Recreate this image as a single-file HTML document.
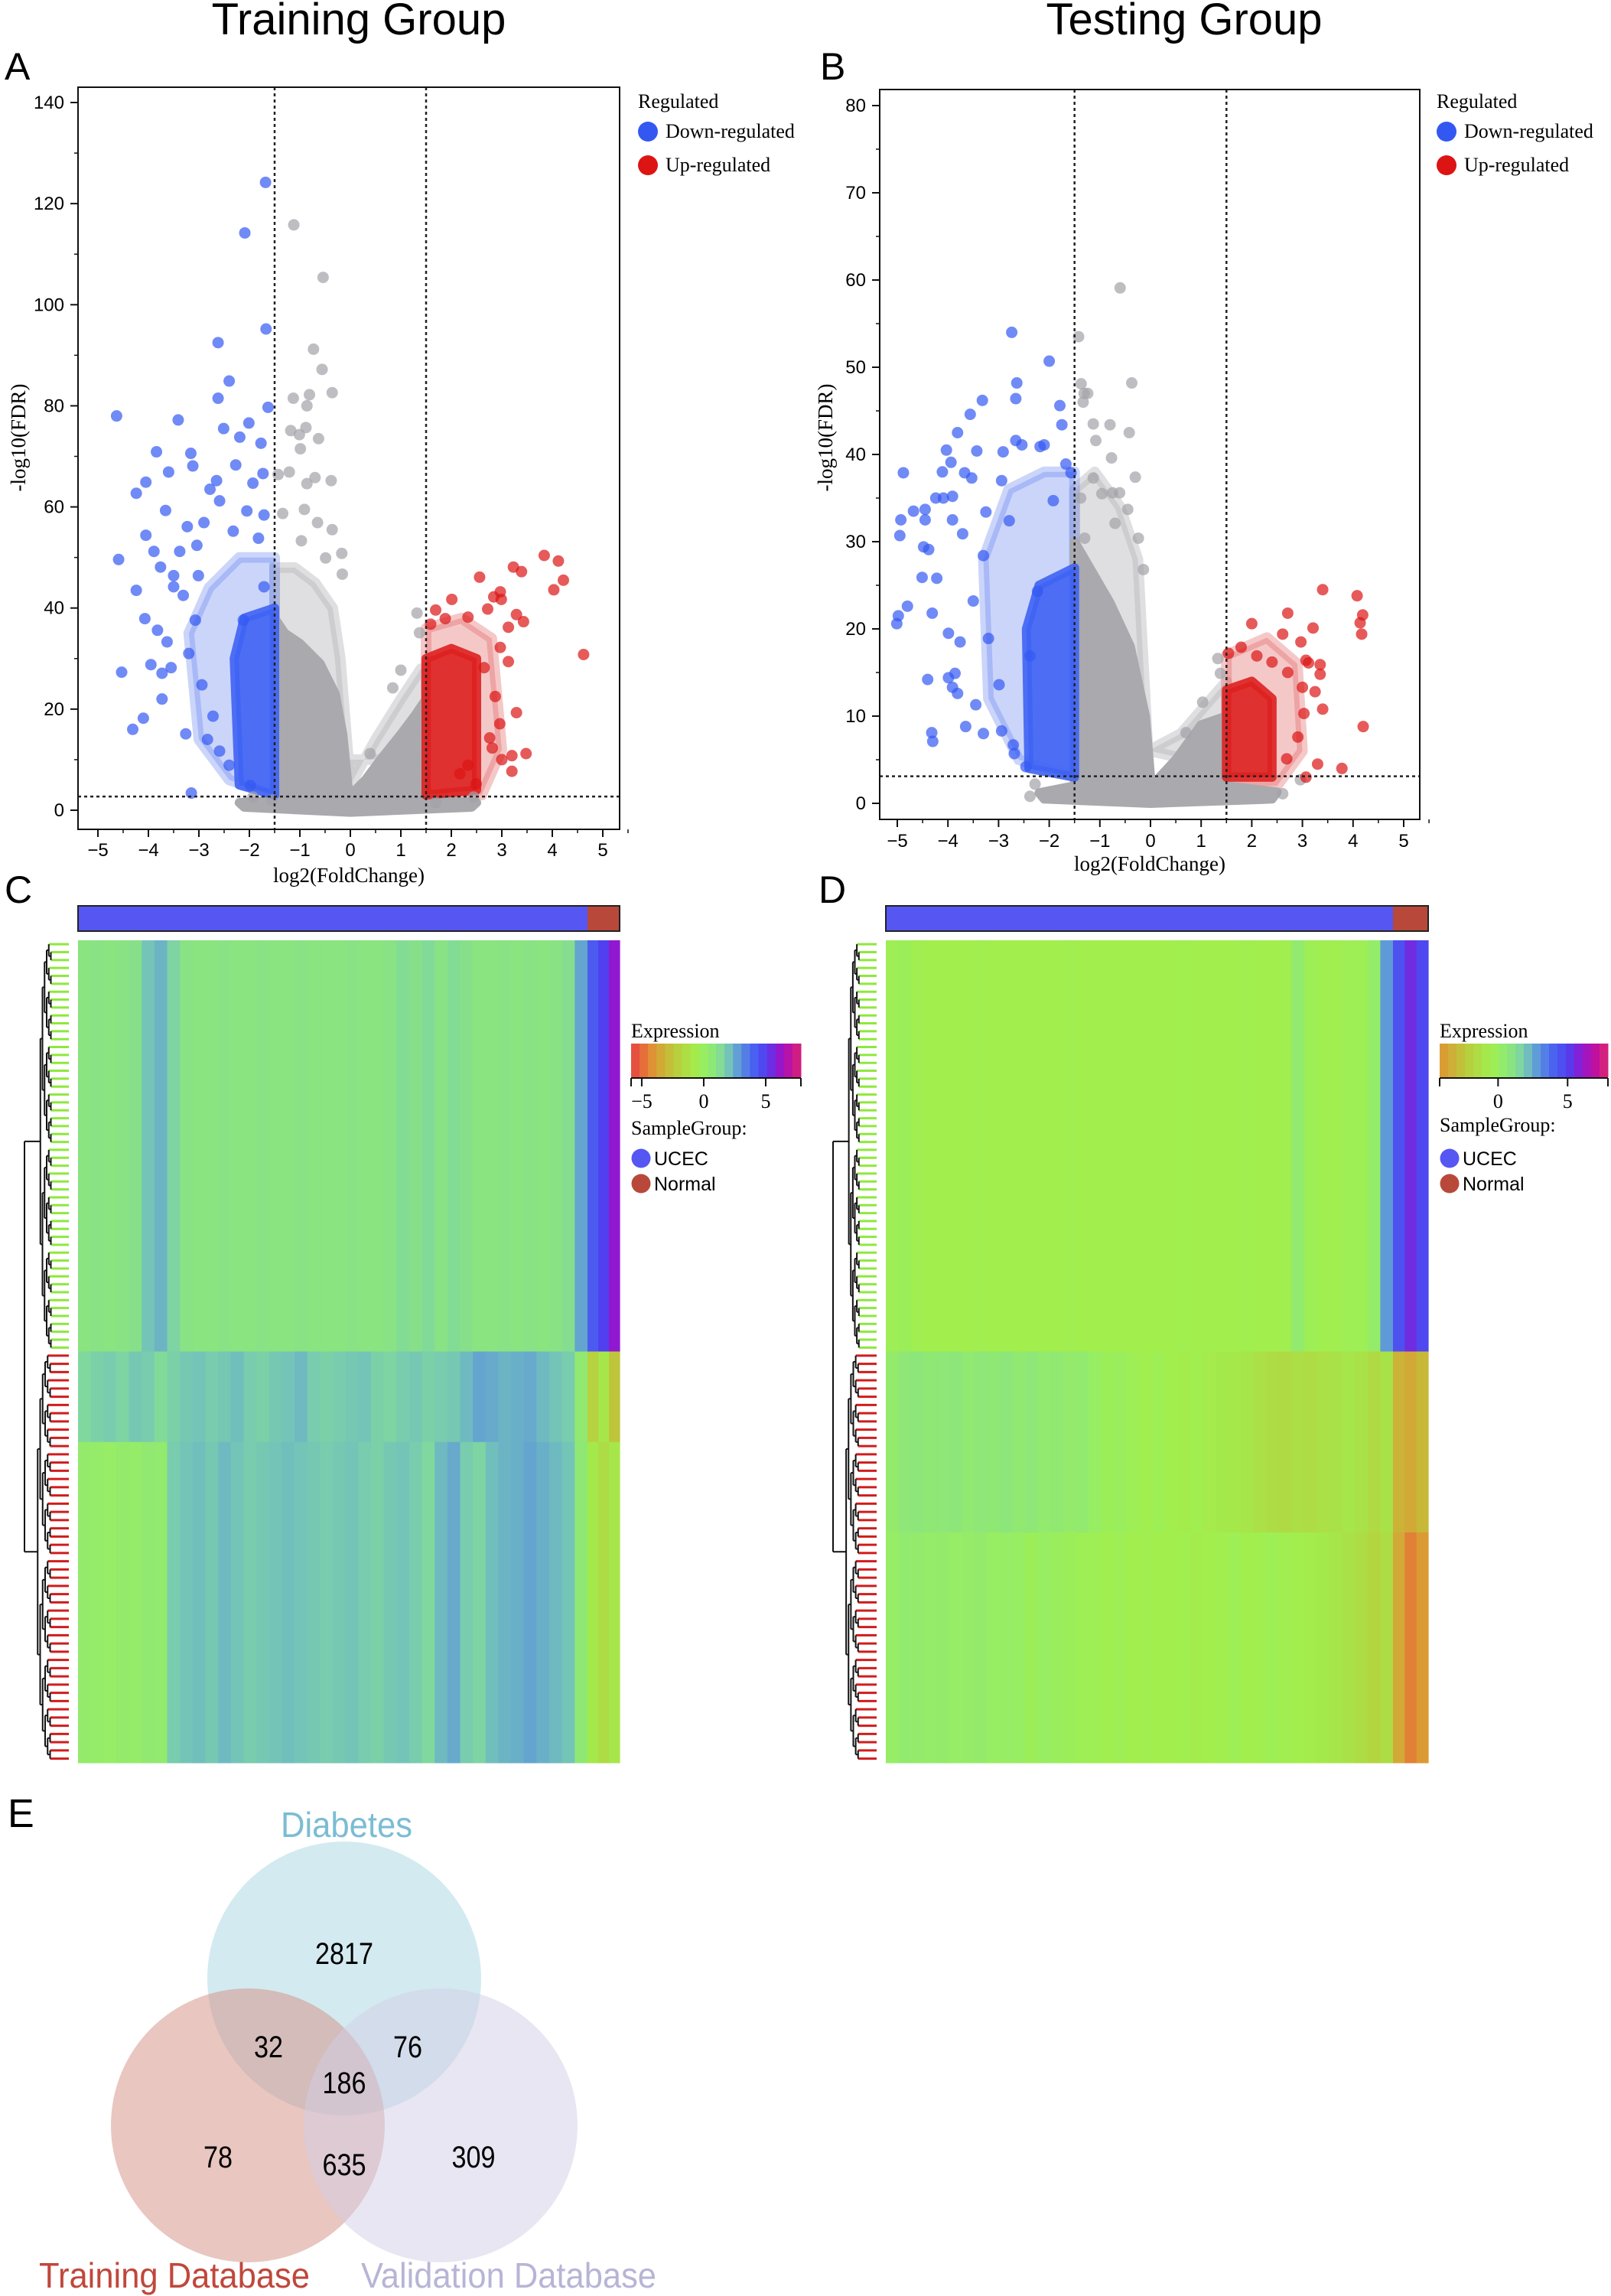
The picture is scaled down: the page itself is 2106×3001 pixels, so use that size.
<!DOCTYPE html>
<html><head><meta charset="utf-8">
<style>
html,body{margin:0;padding:0;background:#fff;}
svg{display:block;}
.sans{font-family:"Liberation Sans",sans-serif;}
.serif{font-family:"Liberation Serif",serif;}
</style></head>
<body>
<svg id="fig" xmlns="http://www.w3.org/2000/svg" width="2106" height="3001" viewBox="0 0 2106 3001">
<rect x="0" y="0" width="2106" height="3001" fill="#fff"/>
<text class="sans" x="469" y="45" font-size="58" text-anchor="middle">Training Group</text>
<text class="sans" x="1548" y="45" font-size="58" text-anchor="middle">Testing Group</text>
<text class="sans" x="6" y="104" font-size="50">A</text>
<text class="sans" x="1072" y="104" font-size="50">B</text>
<text class="sans" x="6" y="1180" font-size="50">C</text>
<text class="sans" x="1070" y="1180" font-size="50">D</text>
<text class="sans" x="10" y="2388" font-size="52">E</text>
<g id="volA"></g>
<g id="volB"></g>
<g id="heatC"></g>
<g id="heatD"></g>
<g id="venn"></g>
</svg>
<script>
// ---------- Volcano A data ----------
const A_blueX=[-4.63,-4.59,-4.53,-4.31,-4.24,-4.24,-4.1,-4.05,-4.05,-4.07,-3.95,-3.89,-3.84,-3.82,-3.76,-3.73,-3.73,-3.66,-3.6,-3.63,-3.55,-3.5,-3.5,-3.41,-3.38,-3.31,-3.26,-3.23,-3.2,-3.16,-3.15,-3.12,-3.07,-3.04,-3.01,-2.94,-2.9,-2.83,-2.78,-2.72,-2.65,-2.62,-2.62,-2.59,-2.59,-2.51,-2.4,-2.4,-2.32,-2.27,-2.19,-2.12,-2.09,-2.05,-2.01,-1.98,-1.93,-1.77,-1.73,-1.71,-1.68,-1.67,-1.63,-1.71,-1.82];
const A_blueY=[78,49.6,27.3,16,43.5,62.7,18.2,54.4,64.9,37.9,28.8,51.2,70.9,35.6,48.1,22,27.1,59.3,66.9,33.3,28.2,46.4,44.2,77.2,51.2,42.5,15.1,56.1,31,70.6,3.4,68.1,37.6,52.4,46.4,24.8,56.9,14,63.5,18.6,65.2,92.5,81.5,11.7,61.2,75.5,84.9,8.9,55.2,68.3,73.8,37.6,114.2,59.2,76.6,4.9,64.7,72.6,66.6,44.2,124.2,95.2,79.7,58.4,53.8];
const A_grayX=[-1.12,-0.54,-0.73,-0.56,-0.36,-1.13,-0.81,-0.86,-0.88,-1.18,-1.01,-0.63,-0.99,-1.43,-1.21,-0.86,-0.7,-0.38,-1.34,-0.91,-0.65,-0.36,-0.97,-0.17,-0.49,-0.16,1.32,1.37,1.0,0.84,0.39,-1.55,-1.93,1.69,2.44];
const A_grayY=[115.8,105.4,91.2,87.2,82.6,81.5,82.2,80,75.7,75.1,74.3,73.5,71.5,66.4,66.9,64.6,65.8,65.2,58.7,59.5,56.9,55.5,53.3,50.8,49.9,46.7,39,35.1,27.7,24.2,11.2,2,2.6,1.5,2.6];
const A_redX=[3.84,4.12,4.22,4.03,4.62,3.39,3.23,2.56,2.97,2.84,2.99,2.01,2.72,3.29,3.43,3.13,2.33,1.69,1.88,1.59,2.97,3.13,2.65,2.87,2.96,2.76,3.29,3.48,3.2,3.0,3.2,2.49,2.81,2.33,2.17];
const A_redY=[50.4,49.3,45.5,43.6,30.8,47.2,48.1,46.1,43.2,42.2,41.7,41.7,39.8,38.7,37.3,36.2,38.2,39.6,37.9,36.8,32.2,29.4,28.2,22.5,17.1,14.3,19.3,11.2,10.8,10,7.7,5.2,12.3,8.9,7.2];
const A_grayCoreX=[-2.2,-1.5,-1.5,-1.3,-1.0,-0.6,-0.3,-0.15,-0.05,0,0.1,0.3,0.6,1.0,1.3,1.5,1.5,2.5,2.4,0,-2.1];
const A_grayCoreY=[1.5,2,38,35,33,29,23,15,5,2,4,6,10,15,19,22,2,1.5,0.6,-0.4,0.6];
const A_grayHaloX=[-1.5,-1.5,-1.1,-0.7,-0.35,-0.2,0,0.5,1.0,1.4,1.5,1.5];
const A_grayHaloY=[10,48,48,45,40,30,5,14,22,28,28,10];
const A_blueCoreX=[-1.5,-2.2,-2.3,-2.1,-1.5];
const A_blueCoreY=[3,5,30,38,40];
const A_blueHaloX=[-1.5,-2.4,-3.0,-3.2,-2.8,-2.2,-1.5];
const A_blueHaloY=[3,6,14,35,44,50,50];
const A_redCoreX=[1.5,1.5,2.0,2.5,2.5];
const A_redCoreY=[3,30,32,30,4];
const A_redHaloX=[1.5,1.5,2.2,2.8,3.0,2.6];
const A_redHaloY=[2,36,38,34,12,3];
const A_xTicks=[-5,-4,-3,-2,-1,0,1,2,3,4,5];
const A_yTicks=[0,20,40,60,80,100,120,140];

// ---------- Volcano B data ----------
const B_blueX=[-4.88,-4.93,-4.95,-4.98,-5.01,-4.8,-4.68,-4.45,-4.45,-4.51,-4.48,-4.38,-4.31,-4.4,-4.32,-4.3,-4.22,-4.24,-4.09,-4.11,-4.03,-3.99,-3.99,-3.94,-3.91,-3.91,-3.91,-3.86,-3.81,-3.81,-3.76,-3.71,-3.67,-3.65,-3.56,-3.53,-3.45,-3.43,-3.32,-3.3,-3.25,-3.2,-2.94,-2.91,-2.94,-2.74,-2.69,-2.66,-2.64,-2.66,-2.54,-2.46,-2.18,-2.1,-2.0,-1.92,-1.79,-1.75,-1.67,-1.57,-2.23,-2.79,-3.3,-3.5,-2.38,-2.99,-2.71];
const B_blueY=[37.9,32.5,30.7,21.5,20.6,22.6,33.5,33.7,32.5,25.9,29.4,29.1,21.8,14.2,8.1,7.1,25.8,35,35,38,40.5,19.5,14.4,39.1,35.2,32.5,13.3,14.9,42.5,12.6,18.5,30.9,37.9,8.8,44.6,37.3,11.3,40.4,46.2,8,33.4,18.9,37,40.3,8.3,54,5.7,41.6,48.2,46.4,41.1,4.2,40.9,41.1,50.7,34.7,45.6,43.4,38.9,37.9,24.3,32.4,28.4,23.2,16.9,13.6,6.7];
const B_grayX=[-0.6,-1.42,-1.37,-0.37,-1.31,-1.24,-1.33,-1.13,-0.8,-0.42,-1.08,-0.77,-0.3,-1.13,-0.96,-0.75,-0.61,-0.45,-1.38,-0.24,-1.3,-0.7,-0.14,1.33,1.38,1.03,0.7,-2.38,-2.28,2.61,2.96];
const B_grayY=[59.1,53.5,48.1,48.2,47,47,46,43.5,43.4,42.5,41.6,39.6,37.4,37.3,35.5,35.6,35.6,33.7,35,30.4,30.4,32.1,26.8,16.6,14.9,11.6,8.1,0.8,2.2,1.1,2.7];
const B_redX=[3.4,4.08,4.19,4.14,4.17,4.2,3.78,3.3,2.71,2.0,3.21,2.61,2.97,3.35,3.07,3.12,3.35,2.71,3.0,3.25,3.4,3.03,2.91,2.69,3.07,1.79,1.54,2.1,2.4];
const B_redY=[24.5,23.8,21.6,20.7,19.4,8.8,4,4.5,21.8,20.6,20.1,19.4,18.5,15.9,16.4,16.1,14.8,15,13.3,12.8,10.8,10.3,7.6,5.1,3,17.9,17.2,16.9,16.2];
const B_grayCoreX=[-2.2,-1.5,-1.5,-1.2,-0.8,-0.4,-0.1,0,0.1,0.5,1.0,1.5,1.5,2.5,2.4,0,-2.1];
const B_grayCoreY=[1.2,2,30,27,23,18,10,3,2.5,5,9,10,2,1.3,0.5,0,0.5];
const B_grayHaloX=[-1.5,-1.5,-1.1,-0.6,-0.25,-0.05,0.6,1.2,1.5,1.5];
const B_grayHaloY=[8,36,38,34,28,6,8,12,14,4];
const B_blueCoreX=[-1.5,-2.4,-2.45,-2.2,-1.5];
const B_blueCoreY=[3,4,20,25,27];
const B_blueHaloX=[-1.5,-2.6,-3.2,-3.3,-2.8,-2.1,-1.5];
const B_blueHaloY=[3,5,12,28,36,38,38];
const B_redCoreX=[1.5,1.5,2.0,2.4,2.4];
const B_redCoreY=[3,13,14,12,3];
const B_redHaloX=[1.5,1.5,2.3,2.9,3.0,2.5];
const B_redHaloY=[2,17,19,16,6,2];
const B_xTicks=[-5,-4,-3,-2,-1,0,1,2,3,4,5];
const B_yTicks=[0,10,20,30,40,50,60,70,80];

// ---------- Heatmap C data ----------
const C_upper=[0.9,1.0,0.9,1.0,1.1,2.0,2.3,1.6,1.0,0.9,0.9,1.0,0.9,0.9,1.0,0.9,0.9,1.0,0.9,0.9,0.9,1.0,0.9,0.9,1.0,1.3,1.1,1.4,1.0,1.3,1.1,0.9,0.9,1.0,0.9,1.0,0.9,1.0,1.2,2.6];
const C_upperNormal=[4.2,5.0,6.0];
const C_lowerA=[1.5,1.7,1.8,1.6,1.9,1.8,1.4,1.7,1.9,2.0,1.8,1.9,2.1,1.8,1.7,1.9,2.0,2.2,1.8,1.7,1.8,1.9,2.0,1.7,1.6,1.8,1.9,1.7,1.8,1.9,2.2,2.6,2.5,2.3,2.4,2.5,2.2,2.0,1.8,0.5];
const C_lowerANormal=[-2.0,-1.0,-2.5];
const C_lowerB=[0.3,0.2,0.1,0.3,0.2,0.5,0.4,1.8,2.0,2.1,1.9,2.2,2.0,1.8,1.9,2.0,2.1,2.0,1.9,1.8,1.9,2.0,1.8,1.7,1.9,2.0,1.8,1.5,2.2,2.5,1.8,1.6,2.1,2.3,2.4,2.6,2.4,2.2,2.0,0.6];
const C_lowerBNormal=[-0.8,-1.5,-1.0];
const C_bandRows=[50,11,39];
const C_leaves=[52,50];
// ---------- Heatmap D data ----------
const D_upper=[-0.3,-0.2,-0.4,-0.5,-0.5,-0.5,-0.5,-0.4,-0.5,-0.5,-0.5,-0.5,-0.5,-0.5,-0.4,-0.5,-0.5,-0.5,-0.5,-0.5,-0.5,-0.5,-0.5,-0.4,-0.5,-0.5,-0.5,-0.5,-0.4,-0.5,-0.5,-0.4,0.4,-0.3,-0.4,-0.4,-0.3,-0.3,0.2,2.8];
const D_upperNormal=[4.5,5.5,4.8];
const D_lowerA=[0.3,0.7,0.8,0.6,0.7,0.8,0.5,0.7,0.6,0.8,0.5,0.7,0.4,0.5,0.3,0.4,0.0,-0.2,-0.1,-0.3,-0.4,-0.3,-0.5,-0.6,-0.4,-0.7,-0.8,-0.9,-1.0,-1.3,-1.5,-1.6,-1.4,-1.5,-1.3,-1.2,-1.0,-1.2,-1.6,-1.2];
const D_lowerANormal=[-3.2,-3.5,-3.0];
const D_lowerB=[0.1,0.4,0.3,0.2,0.3,0.1,0.2,0.3,0.0,0.1,0.0,-0.2,0.0,-0.1,-0.2,-0.3,-0.3,-0.4,-0.3,-0.5,-0.4,-0.5,-0.5,-0.4,-0.6,-0.5,-0.4,-0.3,-0.5,-0.4,-0.3,-0.4,-0.5,-0.6,-0.8,-1.0,-1.2,-1.5,-1.8,-1.5];
const D_lowerBNormal=[-3.5,-4.5,-4.0];
const D_bandRows=[50,22,28];
const D_leaves=[52,50];
const C_legendTicks=[-5,0,5];
const D_legendTicks=[0,5];

// ---------- Venn data ----------
const vennSets=["Diabetes","Training Database","Validation Database"];
const vennCounts=[2817,78,309,32,76,635,186];
const vennRegionNames=["diabetes-only","training-only","validation-only","diabetes-training","diabetes-validation","training-validation","all-three"];

const NS="http://www.w3.org/2000/svg";
function el(parent,tag,attrs){const e=document.createElementNS(NS,tag);for(const k in attrs)e.setAttribute(k,attrs[k]);parent.appendChild(e);return e;}
function scale(d0,d1,r0,r1){return v=>r0+(v-d0)*(r1-r0)/(d1-d0);}

function volcano(g,cfg){
  const sx=scale(-5,5,cfg.x5n,cfg.x5p), sy=scale(0,cfg.ymax,cfg.y0,cfg.ytop);
  const F=cfg.frame;
  const poly=(xs,ys,fill,op,sw,name)=>{
    const p=el(g,'polygon',{points:xs.map((x,i)=>sx(x)+','+sy(ys[i])).join(' '),fill:fill,stroke:fill,'stroke-width':sw,'stroke-linejoin':'round','fill-opacity':op,'stroke-opacity':op});
    
    
  };
  poly(cfg.gHx,cfg.gHy,'#b8b8bc',0.45,14,'gray-cloud-halo');
  poly(cfg.bHx,cfg.bHy,'#6a88f2',0.35,14,'down-cloud-halo');
  poly(cfg.rHx,cfg.rHy,'#e26060',0.35,14,'up-cloud-halo');
  poly(cfg.gCx,cfg.gCy,'#a9a9ae',1,12,'gray-cloud-core');
  poly(cfg.bCx,cfg.bCy,'#3f63f3',0.9,12,'down-cloud-core');
  poly(cfg.rCx,cfg.rCy,'#de2020',0.9,12,'up-cloud-core');
  const dots=(xs,ys,fill,name)=>{xs.forEach((x,i)=>{
    const c=el(g,'circle',{cx:sx(x),cy:sy(ys[i]),r:7.5,fill:fill,'fill-opacity':0.7});
    
    
  });};
  dots(cfg.grayX,cfg.grayY,'#a3a3a8','gray-point');
  dots(cfg.blueX,cfg.blueY,'#3358f2','down-point');
  dots(cfg.redX,cfg.redY,'#dc1414','up-point');
  const dl=(x1,y1,x2,y2,name)=>{const l=el(g,'line',{x1,y1,x2,y2,stroke:'#222','stroke-width':2.5,'stroke-dasharray':'4,4'});};
  dl(sx(-1.5),F[1],sx(-1.5),F[3],'threshold-line-left');
  dl(sx(1.5),F[1],sx(1.5),F[3],'threshold-line-right');
  dl(F[0],sy(cfg.hline),F[2],sy(cfg.hline),'significance-line');
  const fr=el(g,'rect',{x:F[0],y:F[1],width:F[2]-F[0],height:F[3]-F[1],fill:'none',stroke:'#111','stroke-width':2});
  
  cfg.xTicks.forEach(t=>{
    el(g,'line',{x1:sx(t),y1:F[3],x2:sx(t),y2:F[3]+10,stroke:'#111','stroke-width':2});
    el(g,'line',{x1:sx(t+0.5),y1:F[3],x2:sx(t+0.5),y2:F[3]+5,stroke:'#111','stroke-width':1.5});
    const tx=el(g,'text',{x:sx(t),y:cfg.xlabY,'font-size':24,'text-anchor':'middle',class:'sans'});
    tx.textContent=(t<0?'\u2212'+(-t):String(t));
    
  });
  const step=cfg.yTicks[1]-cfg.yTicks[0];
  cfg.yTicks.forEach(t=>{
    el(g,'line',{x1:F[0]-10,y1:sy(t),x2:F[0],y2:sy(t),stroke:'#111','stroke-width':2});
    if(t+step/2<=cfg.ymax) el(g,'line',{x1:F[0]-5,y1:sy(t+step/2),x2:F[0],y2:sy(t+step/2),stroke:'#111','stroke-width':1.5});
    const tx=el(g,'text',{x:F[0]-18,y:sy(t)+8,'font-size':24,'text-anchor':'end',class:'sans'});
    tx.textContent=String(t);
    
  });
  const xt=el(g,'text',{x:(F[0]+F[2])/2,y:cfg.xTitleY,'font-size':27,'text-anchor':'middle',class:'serif'});
  xt.textContent='log2(FoldChange)';
  const yt=el(g,'text',{x:0,y:0,'font-size':27,'text-anchor':'middle',class:'serif',transform:`translate(${cfg.yTitleX},572) rotate(-90)`});
  yt.textContent='-log10(FDR)';
  const L=cfg.legX;
  const lt=el(g,'text',{x:L,y:141,'font-size':26,class:'serif'});lt.textContent='Regulated';
  
  [['Down-regulated','#3358f2',172],['Up-regulated','#dc1414',216]].forEach(([n,c,y])=>{
    const d=el(g,'circle',{cx:L+13,cy:y,r:13,fill:c});
    
    const t=el(g,'text',{x:L+36,y:y+8,'font-size':26,class:'serif'});t.textContent=n;
    
  });
}

volcano(document.getElementById('volA'),{x5n:128,x5p:788,y0:1059,ytop:134,ymax:140,frame:[102,114,810,1084],hline:2.7,
  xTicks:A_xTicks,yTicks:A_yTicks,xlabY:1119,xTitleY:1153,yTitleX:33,legX:834,
  blueX:A_blueX,blueY:A_blueY,grayX:A_grayX,grayY:A_grayY,redX:A_redX,redY:A_redY,
  gCx:A_grayCoreX,gCy:A_grayCoreY,gHx:A_grayHaloX,gHy:A_grayHaloY,bCx:A_blueCoreX,bCy:A_blueCoreY,bHx:A_blueHaloX,bHy:A_blueHaloY,rCx:A_redCoreX,rCy:A_redCoreY,rHx:A_redHaloX,rHy:A_redHaloY});
volcano(document.getElementById('volB'),{x5n:1173,x5p:1835,y0:1050,ytop:138,ymax:80,frame:[1150,117,1856,1071],hline:3.1,
  xTicks:B_xTicks,yTicks:B_yTicks,xlabY:1107,xTitleY:1138,yTitleX:1088,legX:1878,
  blueX:B_blueX,blueY:B_blueY,grayX:B_grayX,grayY:B_grayY,redX:B_redX,redY:B_redY,
  gCx:B_grayCoreX,gCy:B_grayCoreY,gHx:B_grayHaloX,gHy:B_grayHaloY,bCx:B_blueCoreX,bCy:B_blueCoreY,bHx:B_blueHaloX,bHy:B_blueHaloY,rCx:B_redCoreX,rCy:B_redCoreY,rHx:B_redHaloX,rHy:B_redHaloY});

// ---------- colormap ----------
const cmapV=[-6,-5,-4,-3,-2,-1,-0.5,0,0.8,1.5,2,3,4,5,6,7,8];
const cmapC=['#e23c48','#e8663a','#dc9a34','#c8b838','#b6d23e','#a6e64a','#a2ee4c','#98ee62','#8ce67a','#80d89e','#74c4b8','#5a90e0','#4a62f0','#5040f0','#9018d0','#c010a0','#e02a68'];
function hex(c){return [1,3,5].map(i=>parseInt(c.substr(i,2),16));}
function cmap(v){
  if(v<=cmapV[0])return cmapC[0];
  for(let i=0;i<cmapV.length-1;i++){
    if(v<=cmapV[i+1]){const t=(v-cmapV[i])/(cmapV[i+1]-cmapV[i]);const a=hex(cmapC[i]),b=hex(cmapC[i+1]);
      return 'rgb('+a.map((x,k)=>Math.round(x+(b[k]-x)*t)).join(',')+')';}
  }
  return cmapC[cmapC.length-1];
}

function heatmap(g,cfg){
  const H0=1229,H1=2304,rows=cfg.bandRows.reduce((a,b)=>a+b,0),rh=(H1-H0)/rows;
  const a1=el(g,'rect',{x:cfg.x0,y:1184,width:cfg.xn-cfg.x0,height:33,fill:'#5656f2'});
  
  const a2=el(g,'rect',{x:cfg.xn,y:1184,width:cfg.x1-cfg.xn,height:33,fill:'#b8493a'});
  
  el(g,'rect',{x:cfg.x0,y:1184,width:cfg.x1-cfg.x0,height:33,fill:'none',stroke:'#222','stroke-width':2});
  let r0=0;
  cfg.bands.forEach((band,bi)=>{
    const y=H0+r0*rh,h=cfg.bandRows[bi]*rh;
    const cw=(cfg.xn-cfg.x0)/band.length;
    band.forEach((v,i)=>{
      const c=el(g,'rect',{x:cfg.x0+i*cw,y:y,width:cw+0.6,height:h+0.6,fill:cmap(v)});
      
    });
    const nb=cfg.normals[bi],nw=(cfg.x1-cfg.xn)/nb.length;
    nb.forEach((v,i)=>{
      const c=el(g,'rect',{x:cfg.xn+i*nw,y:y,width:nw+0.6,height:h+0.6,fill:cmap(v)});
      
    });
    r0+=cfg.bandRows[bi];
  });
  const split=H0+cfg.bandRows[0]*rh;
  function cluster(yA,yB,n,color,xTop,xLeaf){
    const sp=(yB-yA)/n;
    let maxD=Math.ceil(Math.log2(n));
    function build(lo,hi,d){
      if(hi-lo===1){const y=yA+(lo+0.5)*sp;return {y:y,x:xLeaf,leaf:true};}
      const m=Math.floor((lo+hi)/2);
      const a=build(lo,m,d+1),b=build(m,hi,d+1);
      const x=xTop+(xLeaf-xTop)*(d+1)/(maxD+2);
      [a,b].forEach(ch=>{
        const ln=el(g,'line',{x1:x,y1:ch.y,x2:ch.leaf?cfg.x0-12:ch.x,y2:ch.y,stroke:ch.leaf?color:'#111','stroke-width':ch.leaf?3:2});
        
      });
      el(g,'line',{x1:x,y1:a.y,x2:x,y2:b.y,stroke:'#111','stroke-width':2});
      return {y:(a.y+b.y)/2,x:x,leaf:false};
    }
    return build(0,n,0);
  }
  const up=cluster(H0,split,cfg.leaves[0],'#8ee83c',cfg.rootX+18,cfg.x0-30);
  const lo=cluster(split,H1,cfg.leaves[1],'#d01c1c',cfg.rootX+14,cfg.x0-30);
  el(g,'line',{x1:cfg.rootX,y1:up.y,x2:up.x,y2:up.y,stroke:'#111','stroke-width':2});
  el(g,'line',{x1:cfg.rootX,y1:lo.y,x2:lo.x,y2:lo.y,stroke:'#111','stroke-width':2});
  const rt=el(g,'line',{x1:cfg.rootX,y1:up.y,x2:cfg.rootX,y2:lo.y,stroke:'#111','stroke-width':2});
  
  const L=cfg.legX;
  const et=el(g,'text',{x:L,y:1356,'font-size':26,class:'serif'});et.textContent='Expression';
  
  const cs=scale(cfg.cbMin,cfg.cbMax,L,L+cfg.cbW);
  const nseg=20;
  for(let i=0;i<nseg;i++){
    const v=cfg.cbMin+(i+0.5)*(cfg.cbMax-cfg.cbMin)/nseg;
    const s=el(g,'rect',{x:L+i*cfg.cbW/nseg,y:1364,width:cfg.cbW/nseg+0.5,height:44,fill:cmap(v)});
    
  }
  el(g,'line',{x1:L,y1:1409,x2:L+cfg.cbW,y2:1409,stroke:'#111','stroke-width':2});
  el(g,'line',{x1:L,y1:1409,x2:L,y2:1420,stroke:'#111','stroke-width':2});
  el(g,'line',{x1:L+cfg.cbW,y1:1409,x2:L+cfg.cbW,y2:1420,stroke:'#111','stroke-width':2});
  cfg.ticks.forEach(t=>{
    el(g,'line',{x1:cs(t),y1:1409,x2:cs(t),y2:1420,stroke:'#111','stroke-width':2});
    const tx=el(g,'text',{x:cs(t),y:1448,'font-size':26,'text-anchor':'middle',class:'serif'});
    tx.textContent=t<0?'\u2212'+(-t):String(t);
    
  });
  const sg=el(g,'text',{x:L,y:cfg.sgY,'font-size':26,class:'serif'});sg.textContent='SampleGroup:';
  
  [['UCEC','#5656f2',1514],['Normal','#b8493a',1547]].forEach(([n,c,y])=>{
    const d=el(g,'circle',{cx:L+13,cy:y,r:12.5,fill:c});
    
    const t=el(g,'text',{x:L+30,y:y+9,'font-size':25,class:'sans'});t.textContent=n;
    
  });
}
heatmap(document.getElementById('heatC'),{x0:102,xn:768,x1:810,rootX:32,bands:[C_upper,C_lowerA,C_lowerB],normals:[C_upperNormal,C_lowerANormal,C_lowerBNormal],bandRows:C_bandRows,leaves:C_leaves,legX:825,cbW:222,cbMin:-5.86,cbMax:7.84,ticks:C_legendTicks,sgY:1483});
heatmap(document.getElementById('heatD'),{x0:1158,xn:1821,x1:1867,rootX:1089,bands:[D_upper,D_lowerA,D_lowerB],normals:[D_upperNormal,D_lowerANormal,D_lowerBNormal],bandRows:D_bandRows,leaves:D_leaves,legX:1882,cbW:220,cbMin:-4.2,cbMax:7.9,ticks:D_legendTicks,sgY:1479});

// ---------- Venn ----------
(function(){
  const g=document.getElementById('venn');
  const circ=[[450,2586,'#a7d5e1'],[324,2778,'#d38d81'],[576,2778,'#d1cde5']];
  circ.forEach((c,i)=>{
    const e=el(g,'circle',{cx:c[0],cy:c[1],r:179,fill:c[2],'fill-opacity':0.5});
    
    
  });
  const pos=[[450,2553],[285,2819],[619,2819],[351,2675],[533,2675],[450,2829],[450,2722]];
  vennCounts.forEach((v,i)=>{
    const t=el(g,'text',{x:pos[i][0],y:pos[i][1]+14,'font-size':40,'text-anchor':'middle',class:'sans',textLength:String(v).length*19,lengthAdjust:'spacingAndGlyphs'});
    t.textContent=String(v);
    
    
  });
  const labs=[[453,2401,'#7bbcd4',172],[228,2990,'#c0473b',354],[665,2990,'#b8b4d6',386]];
  labs.forEach((l,i)=>{
    const t=el(g,'text',{x:l[0],y:l[1],'font-size':46,'text-anchor':'middle',fill:l[2],class:'sans',textLength:l[3],lengthAdjust:'spacingAndGlyphs'});
    t.textContent=vennSets[i];
    
    
  });
})();
</script>
</body></html>
